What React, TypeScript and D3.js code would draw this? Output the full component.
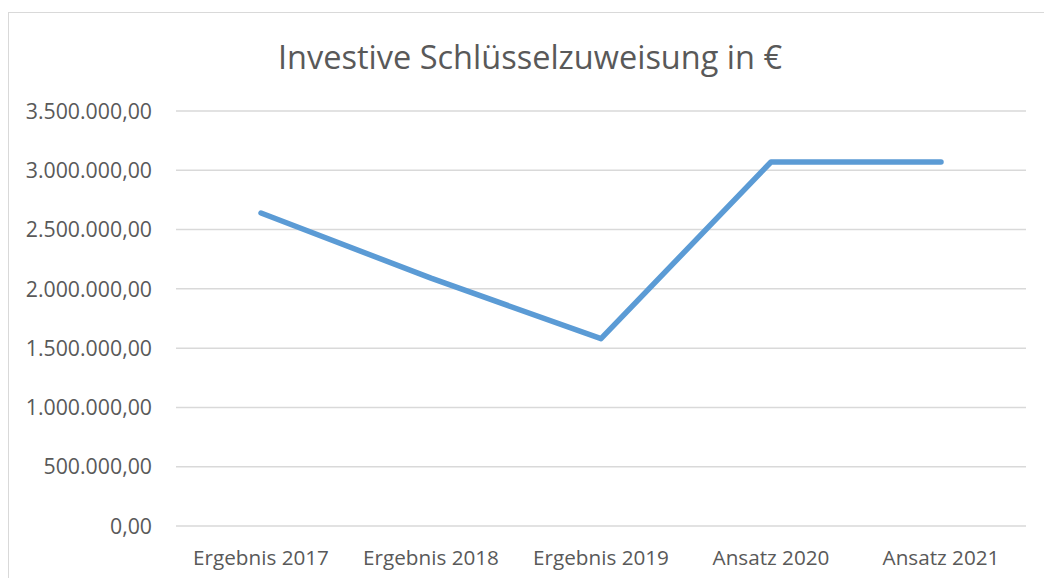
import React from "react";
import * as d3 from "d3";

const title = "Investive Schlüsselzuweisung in €";
const categories = ["Ergebnis 2017", "Ergebnis 2018", "Ergebnis 2019", "Ansatz 2020", "Ansatz 2021"];
const values = [2640000, 2090000, 1580000, 3070000, 3070000];
const yTicks = [0, 500000, 1000000, 1500000, 2000000, 2500000, 3000000, 3500000];

const W = 1044;
const H = 578;
const FONT = "'Open Sans', sans-serif";
const TEXT = "#595959";
const GRID = "#d9d9d9";

const fmt = (v: number) => {
  const s = v.toFixed(2);
  const [int, dec] = s.split(".");
  return int.replace(/\B(?=(\d{3})+(?!\d))/g, ".") + "," + dec;
};

export default function App() {
  const x = d3.scaleBand<string>().domain(categories).range([176, 1026]);
  const y = d3.scaleLinear().domain([0, 3500000]).range([526, 111]);
  const line = d3
    .line<number>()
    .x((_, i) => (x(categories[i]) as number) + x.bandwidth() / 2)
    .y((d) => y(d));

  return (
    <svg
      width={W}
      height={H}
      style={{ position: "absolute", left: 0, top: 0, background: "#fff" }}
      fontFamily={FONT}
    >
      <rect x={8.5} y={12.5} width={1100} height={600} fill="#fff" stroke={GRID} strokeWidth={1} />
      <text x={530} y={69} textAnchor="middle" fontSize={32.5} fill={TEXT}>
        {title}
      </text>
      {yTicks.map((t) => (
        <g key={t}>
          <line x1={176} x2={1026} y1={y(t)} y2={y(t)} stroke={GRID} strokeWidth={1.5} />
          <text x={152} y={y(t)} dy="0.36em" textAnchor="end" fontSize={21.3} fill={TEXT}>
            {fmt(t)}
          </text>
        </g>
      ))}
      {categories.map((c) => (
        <text
          key={c}
          x={(x(c) as number) + x.bandwidth() / 2}
          y={565}
          textAnchor="middle"
          fontSize={20.7}
          fill={TEXT}
        >
          {c}
        </text>
      ))}
      <path
        d={line(values) || ""}
        fill="none"
        stroke="#5B9BD5"
        strokeWidth={5.5}
        strokeLinecap="round"
        strokeLinejoin="round"
      />
    </svg>
  );
}
